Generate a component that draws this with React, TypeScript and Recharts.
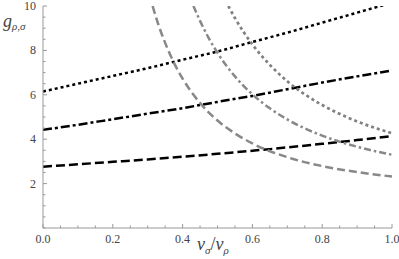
import { Line, LineChart, XAxis, YAxis } from "recharts"

// black straight-ish lines, sampled at 0.0 .. 1.0
const xBlack = [0, 0.1, 0.2, 0.3, 0.4, 0.5, 0.6, 0.7, 0.8, 0.9, 1.0]
const blackDotted = [6.15, 6.5, 6.85, 7.2, 7.58, 7.95, 8.38, 8.8, 9.25, 9.7, 10.15]
const blackDashDot = [4.42, 4.65, 4.9, 5.15, 5.4, 5.68, 5.95, 6.25, 6.55, 6.83, 7.1]
const blackDashed = [2.76, 2.87, 2.98, 3.09, 3.21, 3.34, 3.48, 3.63, 3.79, 3.96, 4.14]

// gray falling curves
const xGrayDashed = [0.314, 0.33, 0.35, 0.375, 0.4, 0.45, 0.5, 0.55, 0.6, 0.7, 0.8, 0.9, 1.0]
const grayDashed = [10.0, 9.19, 8.34, 7.45, 6.73, 5.63, 4.84, 4.26, 3.81, 3.19, 2.79, 2.52, 2.32]

const xGrayDashDot = [0.431, 0.45, 0.475, 0.5, 0.55, 0.6, 0.65, 0.7, 0.8, 0.9, 1.0]
const grayDashDot = [10.0, 9.33, 8.55, 7.89, 6.83, 6.02, 5.39, 4.89, 4.16, 3.66, 3.3]

const xGrayDotted = [0.531, 0.55, 0.6, 0.65, 0.7, 0.75, 0.8, 0.9, 1.0]
const grayDotted = [10.0, 9.46, 8.27, 7.35, 6.61, 6.02, 5.54, 4.8, 4.27]

const xTicks = [0, 0.05, 0.1, 0.15, 0.2, 0.25, 0.3, 0.35, 0.4, 0.45, 0.5, 0.55, 0.6, 0.65, 0.7, 0.75, 0.8, 0.85, 0.9, 0.95, 1.0]
const xLabels = ["0.0", "0.2", "0.4", "0.6", "0.8", "1.0"]
const yTicks = [0, 0.5, 1, 1.5, 2, 2.5, 3, 3.5, 4, 4.5, 5, 5.5, 6, 6.5, 7, 7.5, 8, 8.5, 9, 9.5, 10]
const yLabels = ["2", "4", "6", "8", "10"]

const toPts = (xs: number[], ys: number[]) => xs.map((x, i) => ({ x, y: ys[i] }))

const axisColor = "#999"
const textColor = "#444"
const serif = "Liberation Serif"

const XTick = (props: any) => {
  const { x, y, payload } = props
  const v = payload.value as number
  const label = xLabels.find((l) => Math.abs(parseFloat(l) - v) < 1e-6)
  return (
    <g>
      <line x1={x} x2={x} y1={y} y2={y - (label ? 4 : 2.5)} stroke={axisColor} />
      {label && (
        <text x={x} y={y + 15} textAnchor="middle" fontFamily={serif} fontSize={12} fill={textColor}>
          {label}
        </text>
      )}
    </g>
  )
}

const YTick = (props: any) => {
  const { x, y, payload } = props
  const v = payload.value as number
  const label = yLabels.find((l) => parseFloat(l) === v)
  return (
    <g>
      <line x1={x} x2={x + (label ? 4 : 2.5)} y1={y} y2={y} stroke={axisColor} />
      {label && (
        <text x={x - 7} y={y + 4} textAnchor="end" fontFamily={serif} fontSize={12} fill={textColor}>
          {label}
        </text>
      )}
    </g>
  )
}

export default function App() {
  return (
    <div style={{ position: "absolute", left: 0, top: 0, width: 399, height: 259, background: "#fff" }}>
      <LineChart width={399} height={259} margin={{ top: 6, right: 7, left: 0, bottom: 0 }}>
        <XAxis
          type="number"
          dataKey="x"
          domain={[0, 1]}
          ticks={xTicks}
          interval={0}
          allowDataOverflow
          height={31}
          tickSize={0}
          tickMargin={0}
          tickLine={false}
          axisLine={{ stroke: axisColor }}
          tick={<XTick />}
          label={{
            content: () => (
              <text x={197} y={250} fontFamily={serif} fontStyle="italic" fill={textColor} fontSize={18}>
                v<tspan fontSize={11} dy={4}>σ</tspan>
                <tspan dy={-4} fontStyle="normal">/</tspan>v<tspan fontSize={11} dy={4}>ρ</tspan>
              </text>
            ),
          }}
        />
        <YAxis
          type="number"
          dataKey="y"
          domain={[0, 10]}
          ticks={yTicks}
          interval={0}
          allowDataOverflow
          width={43}
          tickSize={0}
          tickMargin={0}
          tickLine={false}
          axisLine={{ stroke: axisColor }}
          tick={<YTick />}
          label={{
            content: () => (
              <text x={3} y={27} fontFamily={serif} fontStyle="italic" fill={textColor} fontSize={18}>
                g<tspan fontSize={11} dy={3}>ρ,σ</tspan>
              </text>
            ),
          }}
        />
        <Line data={toPts(xBlack, blackDotted)} dataKey="y" type="monotone" stroke="#000" strokeWidth={2.5} strokeDasharray="3 3" dot={false} isAnimationActive={false} />
        <Line data={toPts(xBlack, blackDashDot)} dataKey="y" type="monotone" stroke="#000" strokeWidth={2.5} strokeDasharray="9 3 3 3" dot={false} isAnimationActive={false} />
        <Line data={toPts(xBlack, blackDashed)} dataKey="y" type="monotone" stroke="#000" strokeWidth={2.5} strokeDasharray="9 4" dot={false} isAnimationActive={false} />
        <Line data={toPts(xGrayDashed, grayDashed)} dataKey="y" type="monotone" stroke="#888" strokeWidth={2.5} strokeDasharray="8 4" dot={false} isAnimationActive={false} />
        <Line data={toPts(xGrayDashDot, grayDashDot)} dataKey="y" type="monotone" stroke="#888" strokeWidth={2.5} strokeDasharray="7 3 2.5 3" dot={false} isAnimationActive={false} />
        <Line data={toPts(xGrayDotted, grayDotted)} dataKey="y" type="monotone" stroke="#808080" strokeWidth={2.7} strokeDasharray="3 3" dot={false} isAnimationActive={false} />
      </LineChart>
    </div>
  )
}
